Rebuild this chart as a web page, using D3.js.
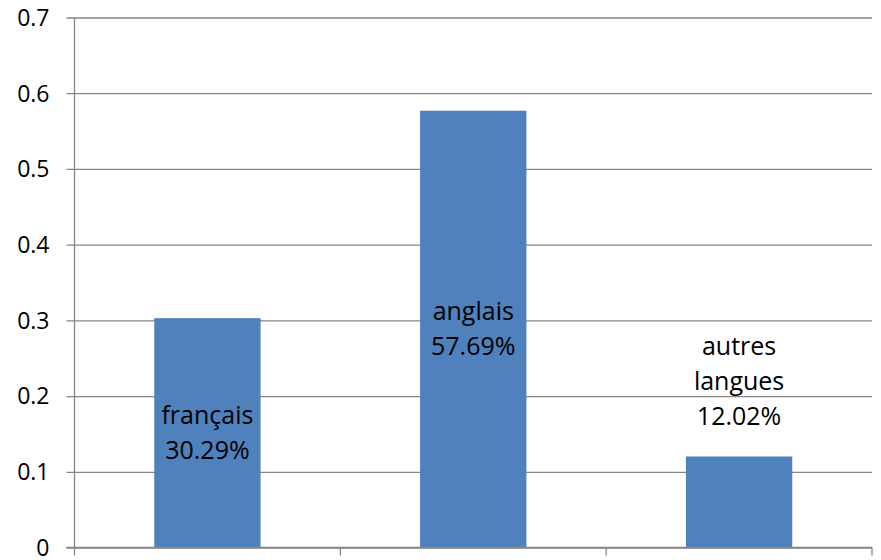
<!DOCTYPE html>
<html>
<head>
<meta charset="utf-8">
<script src="https://cdn.jsdelivr.net/npm/d3@7"></script>
<style>
  html, body { margin: 0; padding: 0; background: #fff; }
  svg { display: block; }
  text { font-family: "Open Sans", "Noto Sans", sans-serif; fill: #000; }
</style>
</head>
<body>
<svg id="chart" width="881" height="560"></svg>
<script>
// Languages and their shares
const categories = ["français", "anglais", "autres langues"];
const shares = [0.3029, 0.5769, 0.1202];
const labelLines = [["français", "30.29%"], ["anglais", "57.69%"], ["autres", "langues", "12.02%"]];
const yTicks = [0, 0.1, 0.2, 0.3, 0.4, 0.5, 0.6, 0.7];

const svg = d3.select("#chart");
const margin = { left: 74.5, right: 9, top: 17.5, bottom: 12.5 };
const W = 881, H = 560;

const x = d3.scaleBand().domain(categories).range([margin.left, W - margin.right]).padding(0);
const y = d3.scaleLinear().domain([0, 0.7]).range([H - margin.bottom, margin.top]);

const gridColor = "#868686";

// Horizontal gridlines with short outer ticks
const yAxis = d3.axisLeft(y).tickValues(yTicks).tickSize(-(W - margin.right - margin.left)).tickSizeOuter(0)
  .tickFormat(d => d === 0 ? "0" : d3.format(".1f")(d));
const gy = svg.append("g").attr("transform", `translate(${margin.left},0)`).call(yAxis);
gy.select(".domain").remove();
gy.selectAll(".tick line").attr("stroke", gridColor).attr("stroke-width", 1.3).attr("x1", -8);
gy.selectAll(".tick text").attr("x", -25).attr("font-size", 23).attr("dy", "0.34em")
  .style("font-family", "'Open Sans', sans-serif");

// Bars
const barW = x.bandwidth() * 0.4;
svg.append("g").selectAll("rect").data(categories).join("rect")
  .attr("x", (d) => x(d) + (x.bandwidth() - barW) / 2)
  .attr("width", barW)
  .attr("y", (d, i) => y(shares[i]))
  .attr("height", (d, i) => y(0) - y(shares[i]))
  .attr("fill", "#4F81BD");

// Vertical axis line and category separators
svg.append("line").attr("x1", margin.left).attr("x2", margin.left)
  .attr("y1", y(0.7)).attr("y2", y(0) + 8).attr("stroke", gridColor).attr("stroke-width", 1.3);
svg.append("line").attr("x1", margin.left - 8).attr("x2", W - margin.right)
  .attr("y1", y(0)).attr("y2", y(0)).attr("stroke", gridColor).attr("stroke-width", 1.3);
svg.append("g").selectAll("line").data(categories.slice(1).concat(["end"])).join("line")
  .attr("x1", (d, i) => margin.left + x.bandwidth() * (i + 1))
  .attr("x2", (d, i) => margin.left + x.bandwidth() * (i + 1))
  .attr("y1", y(0)).attr("y2", y(0) + 8)
  .attr("stroke", gridColor).attr("stroke-width", 1.3);

// Data labels
const lineH = 35;
const fs = 25;
categories.forEach((c, i) => {
  const lines = labelLines[i];
  const cx = x(c) + x.bandwidth() / 2;
  const barMid = (y(shares[i]) + y(0)) / 2;
  const blockH = lines.length * lineH;
  // Center the label on the bar, or place it above when the bar is too short
  let top = barMid - blockH / 2;
  if (blockH > y(0) - y(shares[i])) top = y(shares[i]) - 23 - blockH;
  const t = svg.append("text").attr("text-anchor", "middle").attr("font-size", fs);
  lines.forEach((ln, k) => {
    t.append("tspan").attr("x", cx).attr("y", top + lineH * k + lineH / 2).attr("dy", "0.35em").text(ln);
  });
});
</script>
</body>
</html>
